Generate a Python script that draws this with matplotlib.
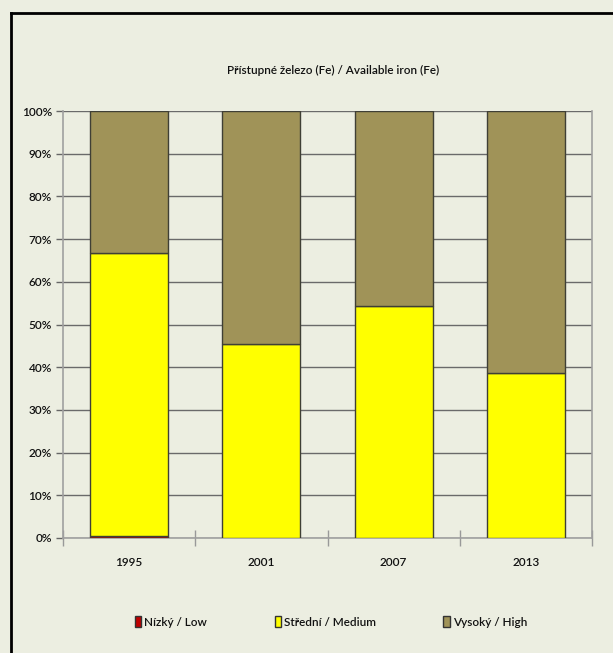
import matplotlib
matplotlib.use("Agg")
import matplotlib.pyplot as plt
from matplotlib.patches import Patch
from matplotlib.lines import Line2D
from matplotlib.ticker import PercentFormatter

years = ["1995", "2001", "2007", "2013"]
low = [0.5, 0.0, 0.0, 0.0]
medium = [66.3, 45.4, 54.3, 38.6]
high = [100 - l - m for l, m in zip(low, medium)]

series_names = ["Nízký / Low", "Střední / Medium", "Vysoký / High"]
series_colors = ["#C00000", "#FFFF00", "#A09358"]

title = "Přístupné železo (Fe) / Available iron (Fe)"

bg = "#ECEEE1"
plt.rcParams["font.family"] = ["Lato", "DejaVu Sans"]

fig = plt.figure(figsize=(6.13, 6.53), dpi=100, facecolor=bg)
ax = fig.add_axes([63 / 613, 1 - 538 / 653, 529 / 613, 427 / 653])
ax.set_facecolor(bg)

x = list(range(len(years)))
width = 0.59
bottom = [0.0] * len(years)
for vals, color in zip([low, medium, high], series_colors):
    ax.bar(x, vals, width, bottom=bottom, color=color,
           edgecolor="#3f3f35", linewidth=1.0, zorder=3)
    bottom = [b + v for b, v in zip(bottom, vals)]

ax.set_xlim(-0.5, len(years) - 0.5)
ax.set_ylim(0, 100)
ax.set_yticks(range(0, 101, 10))
ax.yaxis.set_major_formatter(PercentFormatter(decimals=0))
ax.grid(axis="y", color="#6a6a6a", linewidth=1.0, zorder=1)
ax.set_axisbelow(True)

ax.set_xticks(x)
ax.set_xticklabels(years)
ax.set_xticks([i + 0.5 for i in range(-1, len(years))], minor=True)
ax.tick_params(axis="x", which="major", length=0, pad=14, labelsize=8.5,
               labelcolor="#111111")
ax.tick_params(axis="x", which="minor", length=12, direction="inout",
               color="#999999", width=1.0)
ax.tick_params(axis="y", length=5, color="#666666", width=1.0, pad=3,
               labelsize=8.5, labelcolor="#111111")
for lbl in ax.get_xticklabels() + ax.get_yticklabels():
    lbl.set_fontweight("semibold")

for side in ["left", "right", "bottom", "top"]:
    ax.spines[side].set_color("#a0a0a0")
    ax.spines[side].set_linewidth(1.2)
ax.spines["top"].set_visible(False)

fig.text(333 / 613, 1 - 70 / 653, title, ha="center", va="center",
         fontsize=8.5, color="#111111", fontweight="semibold")

handles = [Patch(facecolor=c, edgecolor="#333333", linewidth=1.0)
           for c in series_colors]
fig.legend(handles, series_names, loc="center", ncol=3,
           bbox_to_anchor=(331 / 613, 1 - 622 / 653), frameon=False,
           prop={"size": 8.5, "weight": "semibold"},
           handlelength=0.55, handleheight=1.1,
           handletextpad=0.25, columnspacing=5.7, labelcolor="#111111")

# outer frame: left and top edges
fig.add_artist(Line2D([11 / 613, 11 / 613], [0, 1 - 13 / 653],
                      transform=fig.transFigure, color="black", linewidth=2))
fig.add_artist(Line2D([11 / 613, 1], [1 - 13 / 653, 1 - 13 / 653],
                      transform=fig.transFigure, color="black", linewidth=2))

fig.savefig("out.png", dpi=100, facecolor=bg)
